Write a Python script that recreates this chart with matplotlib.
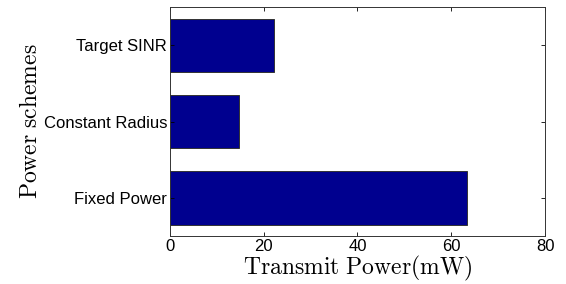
import numpy as np
import matplotlib.pyplot as plt

schemes = ['Fixed Power', 'Constant Radius', 'Target SINR']
power_mw = [63.4, 14.7, 22.2]
xticks = [0, 20, 40, 60, 80]

plt.rcParams['mathtext.fontset'] = 'cm'
plt.rcParams['font.family'] = ['Liberation Sans', 'DejaVu Sans']

fig = plt.figure(figsize=(5.66, 2.84), dpi=100)
ax = fig.add_axes([0.300, 0.168, 0.663, 0.807])

pos = np.arange(1, len(schemes) + 1)
ax.barh(pos, power_mw, height=0.7, color=(0, 0, 0.5625), edgecolor='#333333', linewidth=0.7)

ax.set_xlim(0, 80)
ax.set_ylim(0.5, 3.5)
ax.set_xticks(xticks)
ax.set_yticks(pos)
ax.set_yticklabels(schemes)
ax.tick_params(direction='in', top=True, right=True, labelsize=12, length=3, width=0.6, pad=2)
for s in ax.spines.values():
    s.set_linewidth(0.7)
    s.set_color('#333333')

ax.set_xlabel(r'$\mathrm{Transmit\ Power(mW)}$', fontsize=17, labelpad=0)
ax.set_ylabel(r'$\mathrm{Power\ schemes}$', fontsize=17, labelpad=1)

plt.savefig('out.png')
